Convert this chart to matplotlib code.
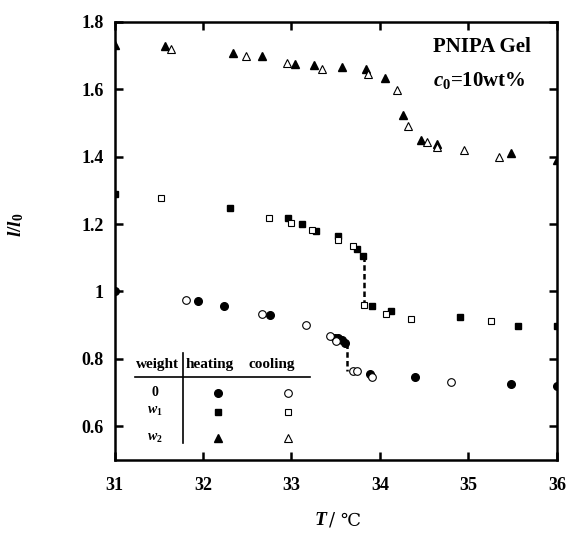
import matplotlib
matplotlib.use("Agg")
import matplotlib.pyplot as plt

plt.rcParams["font.family"] = ["Liberation Serif", "DejaVu Serif"]
plt.rcParams["font.weight"] = "bold"
plt.rcParams["mathtext.fontset"] = "custom"
plt.rcParams["mathtext.rm"] = "Liberation Serif:bold"
plt.rcParams["mathtext.it"] = "Liberation Serif:italic:bold"
plt.rcParams["mathtext.bf"] = "Liberation Serif:bold"

# weight 0 (circles)
w0_heat_T = [31.0, 31.94, 32.24, 32.76, 33.49, 33.53, 33.57, 33.60, 33.89, 34.39, 35.48, 36.0]
w0_heat_l = [1.000, 0.972, 0.956, 0.931, 0.863, 0.862, 0.855, 0.848, 0.755, 0.745, 0.725, 0.720]
w0_cool_T = [31.81, 32.67, 33.16, 33.44, 33.50, 33.70, 33.74, 33.91, 34.80]
w0_cool_l = [0.975, 0.933, 0.900, 0.868, 0.852, 0.764, 0.764, 0.747, 0.732]

# weight w1 (squares)
w1_heat_T = [31.0, 32.31, 32.96, 33.12, 33.28, 33.53, 33.74, 33.81, 33.91, 34.12, 34.90, 35.56, 36.0]
w1_heat_l = [1.289, 1.247, 1.219, 1.200, 1.178, 1.164, 1.126, 1.105, 0.956, 0.941, 0.923, 0.898, 0.898]
w1_cool_T = [31.52, 32.75, 32.99, 33.23, 33.53, 33.70, 33.82, 34.07, 34.35, 35.25]
w1_cool_l = [1.277, 1.218, 1.203, 1.183, 1.154, 1.136, 0.959, 0.932, 0.919, 0.911]

# weight w2 (triangles)
w2_heat_T = [31.0, 31.57, 32.34, 32.67, 33.04, 33.25, 33.57, 33.84, 34.06, 34.26, 34.46, 34.64, 35.48, 36.0]
w2_heat_l = [1.732, 1.727, 1.707, 1.699, 1.675, 1.672, 1.665, 1.661, 1.632, 1.524, 1.449, 1.437, 1.412, 1.389]
w2_cool_T = [31.64, 32.49, 32.95, 33.35, 33.86, 34.19, 34.32, 34.53, 34.64, 34.95, 35.34]
w2_cool_l = [1.720, 1.699, 1.679, 1.661, 1.646, 1.599, 1.490, 1.444, 1.430, 1.419, 1.400]

# volume jumps (dashed)
jump_T = [33.63, 33.82]
jump_top = [0.848, 1.105]
jump_bottom = [0.765, 0.960]

x_ticks = [31, 32, 33, 34, 35, 36]
y_ticks = [0.6, 0.8, 1.0, 1.2, 1.4, 1.6, 1.8]
y_tick_labels = ["0.6", "0.8", "1", "1.2", "1.4", "1.6", "1.8"]

fig = plt.figure(figsize=(5.68, 5.33), dpi=100)
ax = fig.add_axes([0.2016, 0.137, 0.779, 0.822])

filled = dict(linestyle="none", color="black", markeredgecolor="black", zorder=3)
hollow = dict(linestyle="none", markerfacecolor="white", markeredgecolor="black",
              markeredgewidth=0.8, zorder=3)

ax.plot(w0_heat_T, w0_heat_l, "o", markersize=5.5, **filled)
ax.plot(w0_cool_T, w0_cool_l, "o", markersize=5.5, **hollow)
ax.plot(w1_heat_T, w1_heat_l, "s", markersize=4.8, **filled)
ax.plot(w1_cool_T, w1_cool_l, "s", markersize=4.8, **hollow)
ax.plot(w2_heat_T, w2_heat_l, "^", markersize=5.5, **filled)
ax.plot(w2_cool_T, w2_cool_l, "^", markersize=5.5, **hollow)

for t, top, bot in zip(jump_T, jump_top, jump_bottom):
    ax.plot([t, t], [top, bot], color="black", linewidth=1.8,
            dashes=(2.2, 1.3), zorder=2)

ax.set_xlim(31, 36)
ax.set_ylim(0.5, 1.8)
ax.set_xticks(x_ticks)
ax.set_yticks(y_ticks)
ax.set_yticklabels(y_tick_labels)
ax.tick_params(direction="in", length=6, width=1.8, labelsize=13,
               top=True, right=True)
ax.tick_params(axis="x", pad=12)
ax.tick_params(axis="y", pad=8)
for spine in ax.spines.values():
    spine.set_linewidth(1.8)

# x label: italic T, then plain "/ ℃" (needs a font that has the degree-C sign)
ax.text(0.478, -0.137, "T", transform=ax.transAxes, fontsize=14,
        style="italic", ha="right", va="center")
ax.text(0.485, -0.137, "/ ℃", transform=ax.transAxes, fontsize=13,
        fontweight="normal", family=["DejaVu Serif", "Liberation Serif"],
        ha="left", va="center")
ax.set_ylabel("$l/l_0$", fontsize=14)
ax.yaxis.set_label_coords(-0.2, 0.536)

ax.text(0.72, 0.943, "PNIPA Gel", transform=ax.transAxes, fontsize=15,
        va="center", ha="left")
ax.text(0.72, 0.867, r"$\mathit{c}_{\mathbf{0}}$=10wt%", transform=ax.transAxes,
        fontsize=15, va="center", ha="left")

# legend table
ax.text(0.097, 0.219, "weight", transform=ax.transAxes, fontsize=11,
        ha="center", va="center")
ax.text(0.216, 0.219, "heating", transform=ax.transAxes, fontsize=11,
        ha="center", va="center")
ax.text(0.356, 0.219, "cooling", transform=ax.transAxes, fontsize=11,
        ha="center", va="center")
ax.plot([0.046, 0.442], [0.189, 0.189], color="black", linewidth=1.2,
        transform=ax.transAxes)
ax.plot([0.155, 0.155], [0.244, 0.039], color="black", linewidth=1.2,
        transform=ax.transAxes)

rows = [("0", 0.153, "o", 5.5), ("$w_1$", 0.110, "s", 4.8), ("$w_2$", 0.050, "^", 5.5)]
for label, yy, mk, ms in rows:
    ax.text(0.092, yy, label, transform=ax.transAxes, fontsize=10,
            ha="center", va="center")
    ax.plot([0.234], [yy], mk, markersize=ms, transform=ax.transAxes, **filled)
    ax.plot([0.392], [yy], mk, markersize=ms, transform=ax.transAxes, **hollow)

fig.savefig("out.png", dpi=100)
